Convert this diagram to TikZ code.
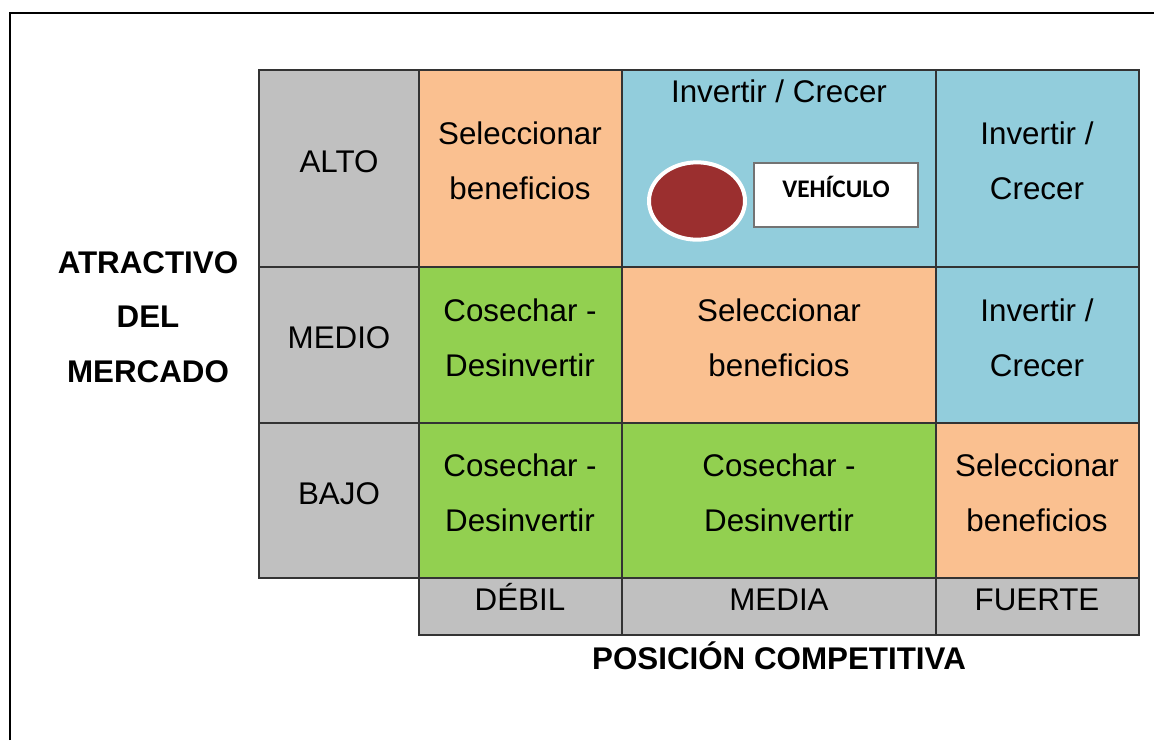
\documentclass[tikz,border=0pt]{standalone}
\usepackage{fontspec}
\setmainfont{Liberation Sans}
\newfontfamily\calibri{Carlito}
\usetikzlibrary{positioning}
\definecolor{gris}{HTML}{C0C0C0}
\definecolor{naranja}{HTML}{FAC090}
\definecolor{azul}{HTML}{92CDDC}
\definecolor{verde}{HTML}{92D050}
\definecolor{granate}{HTML}{9B2F2F}

\begin{document}
\begin{tikzpicture}[x=0.75pt,y=-0.75pt,
  celda/.style={draw=black!80,line width=0.9pt},
  texto/.style={align=center,font=\fontsize{23.5}{41.5}\selectfont},
  nivel/.style={texto,anchor=base},
  eje/.style={align=center,font=\bfseries\fontsize{23.5}{41}\selectfont}]
  \useasboundingbox (0,0) rectangle (1154,740);
  % frame
  \draw[line width=2.2pt] (10,740) -- (10,13) -- (1154,13);

  % level column and level row
  \draw[celda,fill=gris] (259,70) rectangle (419,578);
  \foreach \ya in {267,423}
    \draw[celda] (259,\ya) -- (419,\ya);
  \draw[celda,fill=gris] (419,578) rectangle (1139,635);
  \foreach \xa in {622,936}
    \draw[celda] (\xa,578) -- (\xa,635);

  % matrix cells
  \foreach \xa/\xb/\ya/\yb/\c in {419/622/70/267/naranja, 622/936/70/267/azul, 936/1139/70/267/azul,
      419/622/267/423/verde, 622/936/267/423/naranja, 936/1139/267/423/azul,
      419/622/423/578/verde, 622/936/423/578/verde, 936/1139/423/578/naranja}
    \draw[celda,fill=\c] (\xa,\ya) rectangle (\xb,\yb);

  % row levels
  \node[texto] (alto) at (339,162) {ALTO};
  \node[texto] (medio) at (339,338) {MEDIO};
  \node[texto] (bajo) at (339,494) {BAJO};
  % column levels
  \node[nivel] (debil) at (520,610) {DÉBIL};
  \node[nivel] (media) at (779,610) {MEDIA};
  \node[nivel] (fuerte) at (1037,610) {FUERTE};

  % strategies
  \node[texto] (s11) at (520,161) {Seleccionar\\beneficios};
  \node[texto] (s12) at (779,91) {Invertir / Crecer};
  \node[texto] (s13) at (1037,161) {Invertir /\\Crecer};
  \node[texto] (s21) at (520,338) {Cosechar -\\Desinvertir};
  \node[texto] (s22) at (779,338) {Seleccionar\\beneficios};
  \node[texto] (s23) at (1037,338) {Invertir /\\Crecer};
  \node[texto] (s31) at (520,493) {Cosechar -\\Desinvertir};
  \node[texto] (s32) at (779,493) {Cosechar -\\Desinvertir};
  \node[texto] (s33) at (1037,493) {Seleccionar\\beneficios};

  % product position
  \draw[white,line width=3pt,fill=granate] (697,201) ellipse (36pt and 29pt);
  \node[draw=black!55,line width=1pt,fill=white,minimum width=123pt,minimum height=48pt,
    text height=0.65em,text depth=0.3em,
    font=\calibri\bfseries\fontsize{19}{22}\selectfont] (vehiculo) at (836,195) {VEHÍCULO};

  % axis titles
  \node[eje] (atractivo) at (148,317) {ATRACTIVO\\DEL\\MERCADO};
  \node[eje] (posicion) at (779,656) {POSICIÓN COMPETITIVA};
\end{tikzpicture}
\end{document}
